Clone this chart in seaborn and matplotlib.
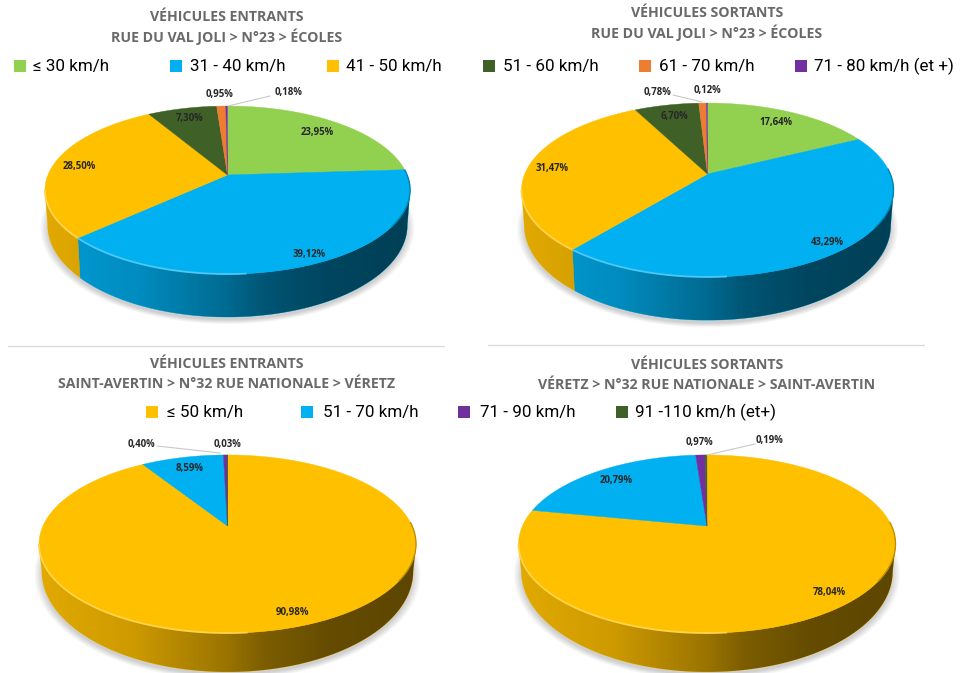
import numpy as np
import matplotlib
matplotlib.use("Agg")
import matplotlib.pyplot as plt
from matplotlib.patches import Rectangle, Polygon
import seaborn as sns

entrants_joli = [23.95, 39.12, 28.50, 7.30, 0.95, 0.18]
sortants_joli = [17.64, 43.29, 31.47, 6.70, 0.78, 0.12]
entrants_nat = [90.98, 8.59, 0.40, 0.03]
sortants_nat = [78.04, 20.79, 0.97, 0.19]

labels_joli = ["≤ 30 km/h", "31 - 40 km/h", "41 - 50 km/h", "51 - 60 km/h", "61 - 70 km/h", "71 - 80 km/h (et +)"]
labels_nat = ["≤ 50 km/h", "51 - 70 km/h", "71 - 90 km/h", "91 -110 km/h (et+)"]

titles = [
    ["VÉHICULES ENTRANTS", "RUE DU VAL JOLI > N°23 > ÉCOLES"],
    ["VÉHICULES SORTANTS", "RUE DU VAL JOLI > N°23 > ÉCOLES"],
    ["VÉHICULES ENTRANTS", "SAINT-AVERTIN > N°32 RUE NATIONALE > VÉRETZ"],
    ["VÉHICULES SORTANTS", "VÉRETZ > N°32 RUE NATIONALE > SAINT-AVERTIN"],
]

colors_joli = sns.color_palette(["#92D050", "#00B0F0", "#FFC000", "#3F6128", "#ED7D31", "#7030A0"])
colors_nat = sns.color_palette(["#FFC000", "#00B0F0", "#7030A0", "#3F6128"])

sns.set_style("white")
plt.rcParams['font.family'] = ['Roboto', 'DejaVu Sans']

fig = plt.figure(figsize=(9.71, 6.73), dpi=100)
ax = fig.add_axes([0, 0, 1, 1])
ax.axis("off")


def project(theta, geo, bottom=False):
    # cercle -> ellipse en perspective, le centre du cercle tombe sur l'apex
    cx, cy, sx, sy, k, depth, m = geo
    u, v = np.sin(theta), np.cos(theta)
    x = sx * u / (1 + k * v)
    y = sy * v / (1 + k * v)
    if bottom:
        return cx + x * 0.985, cy + depth - y * m
    return cx + x, cy - y


def draw_pie(values, colors, geo):
    cx, cy, sx, sy, k, depth, m = geo
    edges = np.radians(np.concatenate([[0], np.cumsum(values)]) * 3.6)
    th_r = np.arccos(-k)
    th_l = 2 * np.pi - th_r

    # ombre douce sous le disque
    t = np.linspace(0, 2 * np.pi, 200)
    bx, by = project(t, geo, bottom=True)
    my = by.mean()
    mx = bx.mean()
    for g in np.linspace(1.0, 1.04, 8):
        ax.fill(mx + (bx - mx) * g, my + 3 + (by - my) * g, color="black", alpha=0.022, lw=0, zorder=1)

    # flancs
    for i in range(len(values)):
        a = max(edges[i], th_r)
        b = min(edges[i + 1], th_l)
        if b <= a:
            continue
        t = np.linspace(a, b, 80)
        x1, y1 = project(t, geo)
        x2, y2 = project(t[::-1], geo, bottom=True)
        ax.fill(np.r_[x1, x2], np.r_[y1, y2], color=colors[i], lw=0.3, zorder=2)

    # degrade sombre sur le flanc, de gauche a droite
    t = np.linspace(th_r, th_l, 200)
    x1, y1 = project(t, geo)
    x2, y2 = project(t[::-1], geo, bottom=True)
    band = Polygon(np.c_[np.r_[x1, x2], np.r_[y1, y2]], transform=ax.transData, fc="none", ec="none")
    ax.add_patch(band)
    pos = np.linspace(-1, 1, 256)
    shade = np.zeros((1, 256, 4))
    shade[..., 3] = 1 - np.interp(pos, [-1, -0.5, 0, 0.2, 0.55, 1], [0.88, 0.80, 0.60, 0.48, 0.39, 0.36])
    left, right = x1.min(), x1.max()
    im = ax.imshow(shade, extent=[left, right, y2.max(), y1.min()], aspect="auto", zorder=3, interpolation="bilinear")
    im.set_clip_path(band)

    # dessus
    for i in range(len(values)):
        t = np.linspace(edges[i], edges[i + 1], 120)
        x, y = project(t, geo)
        ax.fill(np.r_[cx, x], np.r_[cy, y], color=colors[i], lw=0.3, zorder=4)
        # liseré clair a gauche, sombre a droite
        a = max(edges[i], np.radians(175))
        b = min(edges[i + 1], th_l)
        if b > a:
            t = np.linspace(a, b, 80)
            x, y = project(t, geo)
            rim = tuple(c + (1 - c) * 0.3 for c in colors[i])
            ax.plot(x, y, color=rim, lw=1.3, zorder=5, solid_capstyle="butt")
        a = max(edges[i], th_r - 0.25)
        b = min(edges[i + 1], np.radians(125))
        if b > a:
            t = np.linspace(a, b, 80)
            x, y = project(t, geo)
            rim = tuple(c * 0.75 for c in colors[i])
            ax.plot(x, y, color=rim, lw=1.0, zorder=5, solid_capstyle="butt")


def pct(v):
    return f"{v:.2f}%".replace(".", ",")


def draw_labels(values, positions):
    for v, (x, y) in zip(values, positions):
        ax.text(x, y, pct(v), ha="center", va="center", fontsize=6.9, fontweight="bold",
                color="#262626", family=["Open Sans", "DejaVu Sans"], zorder=7)


def draw_legend(labels, colors, squares, starts, y):
    for lab, c, sq, st in zip(labels, colors, squares, starts):
        ax.add_patch(Rectangle((sq, y - 6), 12, 12, color=c, lw=0, zorder=6))
        ax.text(st, y, lab, ha="left", va="center", fontsize=12.25, color="black", zorder=6)


pies = [
    (entrants_joli, colors_joli, (227.5, 175, 179.6, 81.3, 0.179, 33.6, 1.095)),
    (sortants_joli, colors_joli, (707.5, 174, 182.8, 84.0, 0.184, 34.0, 1.09)),
    (entrants_nat, colors_nat, (227.5, 526, 184.6, 85.4, 0.202, 25.0, 1.13)),
    (sortants_nat, colors_nat, (707, 526, 184.6, 85.4, 0.202, 25.0, 1.13)),
]
for values, cols, geo in pies:
    draw_pie(values, cols, geo)

# traits de rappel des petites parts
leaders = [
    ([270, 228], [96, 106]),
    ([673, 702], [95, 102]),
    ([157, 220], [446, 453]),
    ([755, 707], [444, 455]),
]
for lx, ly in leaders:
    ax.plot(lx, ly, color="#c8c8c8", lw=0.8, zorder=6)

draw_labels(entrants_joli, [(317, 132), (309, 254), (79, 166), (190, 119), (219, 95), (289, 93)])
draw_labels(sortants_joli, [(776, 122), (827, 242), (552, 168), (674, 116), (657, 93), (707, 91)])
draw_labels(entrants_nat, [(292, 612), (190, 468), (141, 444), (227, 445)])
draw_labels(sortants_nat, [(829, 593), (616, 480), (699, 442), (769, 441)])

draw_legend(labels_joli, colors_joli, [14, 170, 327, 483, 639, 795], [33, 190, 346, 503, 659, 814], 66)
draw_legend(labels_nat, colors_nat, [146, 301, 458, 616], [167, 323, 480, 635], 412)

title_pos = [(227, 17, 37), (707, 13, 33), (227, 364, 384), (707, 365, 385)]
for (l1, l2), (x, y1, y2) in zip(titles, title_pos):
    for txt, y in ((l1, y1), (l2, y2)):
        ax.text(x, y, txt, ha="center", va="center", fontsize=10.2, fontweight="bold",
                color="#696969", family=["Open Sans", "DejaVu Sans"])

# separateurs entre les deux rangees
ax.plot([8, 444], [346, 346], color="#d9d9d9", lw=0.9)
ax.plot([488, 924], [345, 345], color="#d9d9d9", lw=0.9)

ax.set_xlim(0, 971)
ax.set_ylim(673, 0)
fig.savefig("out.png", dpi=100)
